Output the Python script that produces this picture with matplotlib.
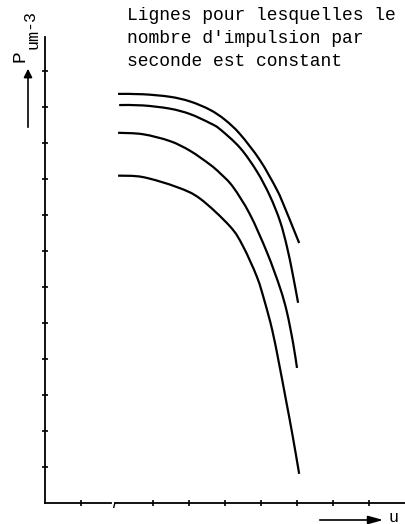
import matplotlib
matplotlib.use("Agg")
import matplotlib.pyplot as plt
from matplotlib.path import Path
from matplotlib.patches import PathPatch, FancyArrowPatch

# ---- data (axis units = tick spacing) ----
a_x = [2.03, 2.72, 3.47, 4.03, 4.58, 5.00, 5.42, 5.97, 6.44, 6.67, 6.89, 7.06]
a_y = [11.36, 11.35, 11.28, 11.15, 10.92, 10.64, 10.24, 9.52, 8.70, 8.18, 7.64, 7.22]

b_x = [2.06, 2.72, 3.47, 4.03, 4.58, 4.86, 5.42, 5.89, 6.25, 6.53, 6.72, 6.88, 7.03]
b_y = [11.05, 11.04, 10.95, 10.80, 10.55, 10.38, 9.86, 9.20, 8.52, 7.82, 7.12, 6.36, 5.56]

c_x = [2.03, 2.72, 3.47, 4.03, 4.58, 4.86, 5.22, 5.69, 6.17, 6.53, 6.72, 6.89, 7.00]
c_y = [10.28, 10.24, 10.05, 9.78, 9.40, 9.16, 8.78, 8.02, 6.95, 5.97, 5.30, 4.45, 3.75]

d_x = [2.03, 2.72, 3.67, 4.31, 5.14, 5.50, 5.89, 6.10, 6.31, 6.50, 6.69, 6.88, 7.06]
d_y = [9.09, 9.05, 8.77, 8.45, 7.68, 7.13, 6.27, 5.60, 4.81, 3.88, 2.88, 1.86, 0.81]

x_ticks = [1, 3, 4, 5, 6, 7, 8, 9]
y_ticks = [1, 2, 3, 4, 5, 6, 7, 8, 9, 10, 11, 12]

title_lines = ["Lignes pour lesquelles le",
               "nombre d'impulsion par",
               "seconde est constant"]

MONO = 'Liberation Mono'
W, H = 405, 524
fig = plt.figure(figsize=(W / 100, H / 100), dpi=100)

def fx(px):
    return px / W

def fy(py):
    return 1 - py / H

ax = fig.add_axes([fx(45), fy(503), fx(405) - fx(45), fy(37) - fy(503)])
ax.set_xlim(0, 10)
ax.set_ylim(0, 12.94)


def smooth_path(xs, ys):
    """Catmull-Rom curve through the read points, as cubic Bezier segments."""
    pts = list(zip(xs, ys))
    verts = [pts[0]]
    codes = [Path.MOVETO]
    n = len(pts)
    for i in range(n - 1):
        p0 = pts[i - 1] if i > 0 else pts[i]
        p1 = pts[i]
        p2 = pts[i + 1]
        p3 = pts[i + 2] if i + 2 < n else pts[i + 1]
        c1 = (p1[0] + (p2[0] - p0[0]) / 6, p1[1] + (p2[1] - p0[1]) / 6)
        c2 = (p2[0] - (p3[0] - p1[0]) / 6, p2[1] - (p3[1] - p1[1]) / 6)
        verts += [c1, c2, p2]
        codes += [Path.CURVE4, Path.CURVE4, Path.CURVE4]
    return Path(verts, codes)


for xs, ys in [(a_x, a_y), (b_x, b_y), (c_x, c_y), (d_x, d_y)]:
    ax.add_patch(PathPatch(smooth_path(xs, ys), facecolor='none',
                           edgecolor='black', lw=1.6, capstyle='butt'))

for s in ['top', 'right', 'bottom']:
    ax.spines[s].set_visible(False)
ax.spines['left'].set_linewidth(1.3)

# broken x axis
ax.plot([0, 1.83], [0, 0], color='black', lw=1.3, clip_on=False)
ax.plot([1.94, 10], [0, 0], color='black', lw=1.3, clip_on=False)
ax.plot([1.91, 1.94], [-0.12, 0], color='black', lw=1.0, clip_on=False)

ax.set_xticks(x_ticks)
ax.set_yticks(y_ticks)
ax.set_xticklabels([])
ax.set_yticklabels([])
ax.tick_params(direction='inout', length=5, width=1.2, color='black')

for i, line in enumerate(title_lines):
    fig.text(fx(127), fy(20 + 23 * i), line, fontsize=13,
             family=MONO, ha='left', va='baseline')

# y label pieces with arrow
fig.text(fx(20), fy(56), 'P', rotation=90, fontsize=14, family=MONO,
         ha='center', va='center')
fig.text(fx(33), fy(39), 'um', rotation=90, fontsize=12, family=MONO,
         ha='center', va='center')
fig.text(fx(29), fy(19), '-3', rotation=90, fontsize=12, family=MONO,
         ha='center', va='center')
fig.add_artist(FancyArrowPatch(
    (fx(28), fy(130)), (fx(28), fy(66)), transform=fig.transFigure,
    arrowstyle='-|>,head_length=5,head_width=2.5', color='black', lw=1.2,
    mutation_scale=1))

# x label with arrow
fig.add_artist(FancyArrowPatch(
    (fx(317), fy(520)), (fx(386), fy(520)), transform=fig.transFigure,
    arrowstyle='-|>,head_length=9,head_width=2.5', color='black', lw=1.2,
    mutation_scale=1))
fig.text(fx(389), fy(518), 'u', fontsize=12, family=MONO,
         ha='left', va='center')

fig.savefig('out.png', dpi=100)
